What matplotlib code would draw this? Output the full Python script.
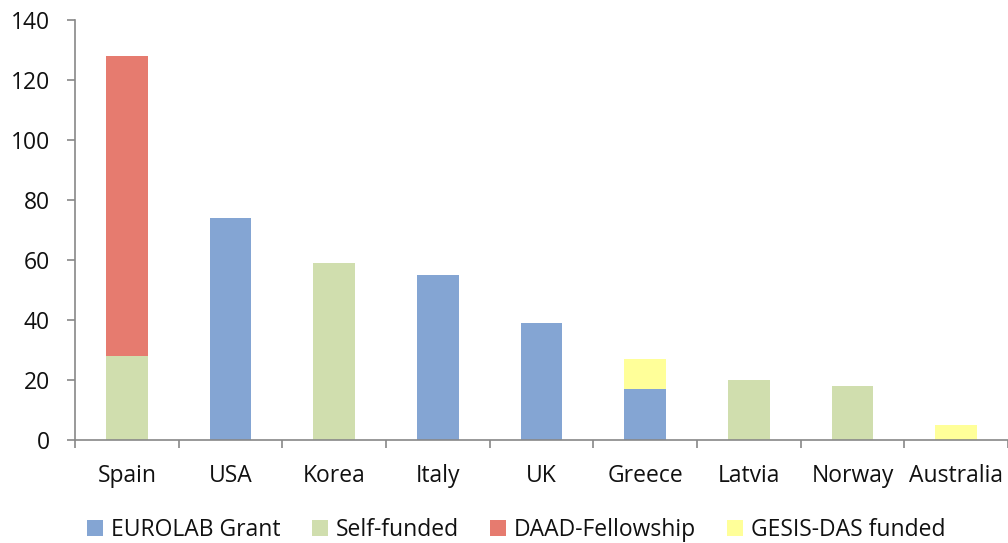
import matplotlib
matplotlib.use("Agg")
import matplotlib.pyplot as plt
import numpy as np

categories = ["Spain", "USA", "Korea", "Italy", "UK", "Greece", "Latvia", "Norway", "Australia"]
eurolab = [0, 74, 0, 55, 39, 17, 0, 0, 0]
self_funded = [28, 0, 59, 0, 0, 0, 20, 18, 0]
daad = [100, 0, 0, 0, 0, 0, 0, 0, 0]
gesis = [0, 0, 0, 0, 0, 10, 0, 0, 5]
y_ticks = [0, 20, 40, 60, 80, 100, 120, 140]

series = [
    ("EUROLAB Grant", eurolab, "#84A5D3"),
    ("Self-funded", self_funded, "#D0DEAE"),
    ("DAAD-Fellowship", daad, "#E67B6F"),
    ("GESIS-DAS funded", gesis, "#FFFF99"),
]

plt.rcParams['font.family'] = ['Open Sans', 'DejaVu Sans']
FS = 16.5

fig = plt.figure(figsize=(10.08, 5.43), dpi=100)
ax = fig.add_axes([0.0744, 0.1897, 0.9256, 0.7733])

x = np.arange(len(categories))
bottom = np.zeros(len(categories))
handles = []
for name, vals, color in series:
    v = np.array(vals, dtype=float)
    h = ax.bar(x, v, 0.4, bottom=bottom, color=color, label=name, linewidth=0)
    handles.append(h)
    bottom += v

ax.set_xlim(-0.5, len(categories) - 0.5)
ax.set_ylim(0, 140)
ax.set_yticks(y_ticks)
ax.set_yticklabels([str(t) for t in y_ticks], fontsize=FS, color="#111111")
ax.set_xticks(np.arange(len(categories) + 1) - 0.5)
ax.set_xticklabels([])
ax.set_xticks(x, minor=True)
ax.set_xticklabels(categories, minor=True, fontsize=FS, color="#111111")
ax.tick_params(axis='x', which='minor', length=0, pad=17)
ax.tick_params(axis='x', which='major', length=6, color="#888888", width=1.2)
ax.tick_params(axis='y', length=6, color="#888888", width=1.2, pad=12)

for s in ["top", "right"]:
    ax.spines[s].set_visible(False)
for s in ["left", "bottom"]:
    ax.spines[s].set_color("#888888")
    ax.spines[s].set_linewidth(1.2)

fig.legend(handles=handles, loc="lower left", bbox_to_anchor=(0.066, -0.036), ncol=4,
           frameon=False, fontsize=FS, handlelength=0.7, handleheight=0.7,
           handletextpad=0.35, columnspacing=1.35, labelcolor="#111111")

fig.savefig("out.png", dpi=100)
